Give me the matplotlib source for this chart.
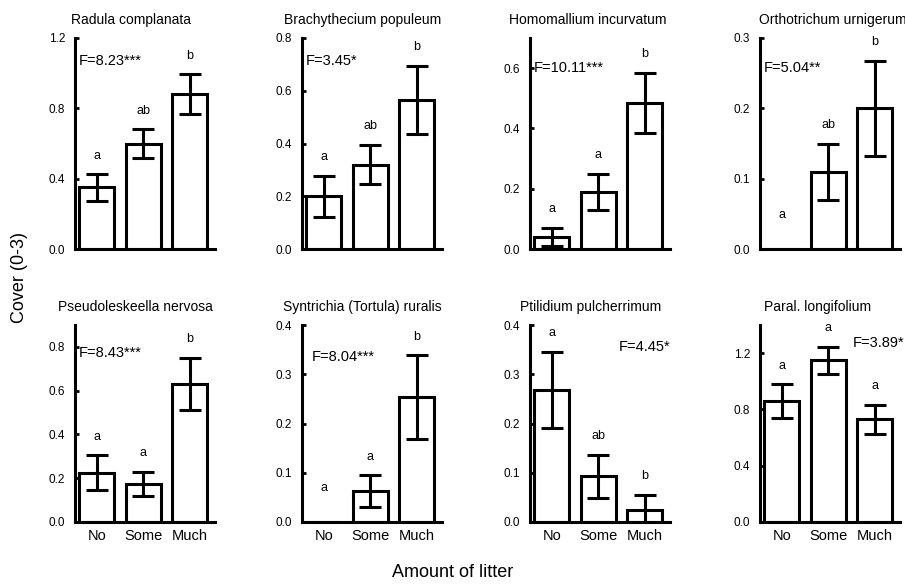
import numpy as np
import matplotlib
matplotlib.use('Agg')
import matplotlib.pyplot as plt

plt.rcParams['font.family'] = ['Liberation Sans', 'DejaVu Sans']

# Data: mean cover and standard error per litter class
categories = ['No', 'Some', 'Much']

titles = ['Radula complanata', 'Brachythecium populeum', 'Homomallium incurvatum',
          'Orthotrichum urnigerum', 'Pseudoleskeella nervosa',
          'Syntrichia (Tortula) ruralis', 'Ptilidium pulcherrimum', 'Paral. longifolium']

means = [[0.35, 0.60, 0.88],
         [0.20, 0.32, 0.565],
         [0.04, 0.19, 0.485],
         [0.0, 0.11, 0.20],
         [0.225, 0.175, 0.63],
         [0.0, 0.063, 0.254],
         [0.268, 0.093, 0.025],
         [0.86, 1.15, 0.73]]

errors = [[0.075, 0.08, 0.115],
          [0.078, 0.075, 0.13],
          [0.03, 0.06, 0.10],
          [0.0, 0.04, 0.068],
          [0.08, 0.055, 0.12],
          [0.0, 0.032, 0.085],
          [0.078, 0.044, 0.03],
          [0.12, 0.095, 0.105]]

letters = [['a', 'ab', 'b'],
           ['a', 'ab', 'b'],
           ['a', 'a', 'b'],
           ['a', 'ab', 'b'],
           ['a', 'a', 'b'],
           ['a', 'a', 'b'],
           ['a', 'ab', 'b'],
           ['a', 'a', 'a']]

f_texts = ['F=8.23***', 'F=3.45*', 'F=10.11***', 'F=5.04**',
           'F=8.43***', 'F=8.04***', 'F=4.45*', 'F=3.89*']

y_max = [1.2, 0.8, 0.7, 0.3, 0.9, 0.4, 0.4, 1.4]
y_step = [0.4, 0.2, 0.2, 0.1, 0.2, 0.1, 0.1, 0.4]

# layout (axes fraction positions for F text and titles)
f_pos = [(0.03, 0.89, 'left'), (0.03, 0.89, 'left'), (0.03, 0.86, 'left'),
         (0.03, 0.86, 'left'), (0.03, 0.86, 'left'), (0.07, 0.84, 'left'),
         (1.0, 0.89, 'right'), (1.03, 0.91, 'right')]
title_x = [0.40, 0.43, 0.41, 0.52, 0.43, 0.43, 0.43, 0.41]

col_left = [75, 302, 530, 760]
W, H = 905, 585

fig = plt.figure(figsize=(9.05, 5.85), dpi=100)

lw = 2.2
x = np.arange(len(categories))

for i in range(8):
    row, col = divmod(i, 4)
    if row == 0:
        top, bot = 38, 249
    else:
        top, bot = 325, 522
    ax = fig.add_axes([col_left[col] / W, 1 - bot / H, 140 / W, (bot - top) / H])

    m = np.array(means[i])
    e = np.array(errors[i])
    ax.bar(x, m, width=0.75, color='white', edgecolor='black', linewidth=lw, zorder=2)
    nz = m > 0
    ax.errorbar(x[nz], m[nz], yerr=e[nz], fmt='none', ecolor='black',
                elinewidth=lw, capsize=8, capthick=lw, zorder=3)

    for xi, mi, ei, lab in zip(x, m, e, letters[i]):
        off = 9 if mi > 0 else 20
        ax.annotate(lab, (xi, mi + ei), xytext=(0, off), textcoords='offset points',
                    ha='center', va='bottom', fontsize=9)

    fx, fy, fha = f_pos[i]
    ax.text(fx, fy, f_texts[i], transform=ax.transAxes, ha=fha, va='center', fontsize=10.5)

    ax.set_xlim(-0.47, 2.55)
    ax.set_ylim(0, y_max[i])
    ticks = np.arange(0, y_max[i] + 1e-9, y_step[i])
    ax.set_yticks(ticks)
    ax.set_yticklabels([f'{t:.1f}' for t in ticks])
    ax.set_xticks(x)
    if row == 1:
        ax.set_xticklabels(categories, fontsize=10.5)
    else:
        ax.set_xticklabels([])
    ax.tick_params(axis='x', length=0, pad=5)
    ax.tick_params(axis='y', direction='in', length=3, width=2, labelsize=8.5, pad=7)

    for s in ['top', 'right']:
        ax.spines[s].set_visible(False)
    for s in ['left', 'bottom']:
        ax.spines[s].set_linewidth(lw)

    ax.set_title(titles[i], x=title_x[i], fontsize=10, pad=10)

fig.text(0.022, 0.525, 'Cover (0-3)', rotation=90, ha='center', va='center', fontsize=13)
fig.text(0.5, 0.022, 'Amount of litter', ha='center', va='center', fontsize=13)

fig.savefig('out.png', dpi=100)
